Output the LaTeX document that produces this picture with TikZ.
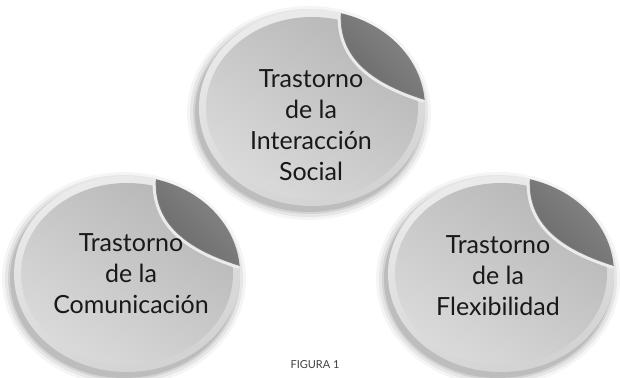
\documentclass[tikz,border=0pt]{standalone}
\usepackage{fontspec}
\setmainfont{Lato}

\definecolor{rimgray}{HTML}{EBEBEB}
\definecolor{rimdark}{HTML}{D2D2D2}
\definecolor{facetop}{HTML}{B7B7B7}
\definecolor{facebot}{HTML}{DADADA}
\definecolor{curldark}{HTML}{686868}
\definecolor{curllight}{HTML}{888888}

\tikzset{
  sticker text/.style={align=center, font=\fontsize{25}{31}\selectfont, text=black!90},
  pics/sticker/.style={code={
    % soft shadow under the sticker
    \foreach \r/\o in {9/0.04, 6/0.06, 3/0.08, 1/0.10}
      \fill[black, opacity=\o] (-3,-5) ellipse ({113+\r} and {98+\r});
    % light rim
    \shade[top color=rimgray, bottom color=rimdark, shading angle=20] (0,0) ellipse (113 and 98);
    % grey face
    \shade[top color=facetop, bottom color=facebot, shading angle=-35] (0,0) ellipse (106 and 91);
    % light edge along the curl
    \draw[rimgray, line width=7pt] (29.2,94.7) .. controls (27,50) and (60,25) .. (112.6,8.5);
    % curled corner
    \shade[top color=curllight, bottom color=curldark, shading angle=-45]
      (29.2,94.7) .. controls (27,50) and (60,25) .. (112.6,8.5)
      arc[start angle=5, end angle=75, x radius=113, y radius=98] -- cycle;
    \draw[black!50, line width=0.8pt] (29.2,94.7) .. controls (27,50) and (60,25) .. (112.6,8.5);
  }}
}

\begin{document}
\begin{tikzpicture}[x=1pt, y=1pt]
\useasboundingbox (0,0) rectangle (620,377);
\fill[white] (0,0) rectangle (620,377);

% Stickers
\pic at (312,269) {sticker};
\pic at (127,103) {sticker};
\pic at (501,103) {sticker};

% Labels
\node (inter) [sticker text] at (311,252) {Trastorno\\de la\\Interacción\\Social};
\node (comun) [sticker text] at (131,103) {Trastorno\\de la\\Comunicación};
\node (flex) [sticker text] at (498,101) {Trastorno\\de la\\Flexibilidad};

% Caption
\node (fig) [font=\fontsize{11}{13}\selectfont, text=black!75] at (315,12) {FIGURA 1};
\end{tikzpicture}
\end{document}
